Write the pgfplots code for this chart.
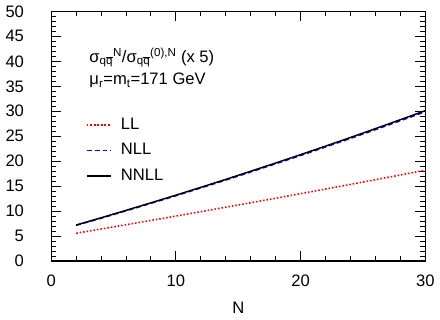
\documentclass[border=0pt]{standalone}
\usepackage{fontspec}
\setmainfont{Liberation Sans}
\usepackage{pgfplots}
\pgfplotsset{compat=1.18}
\begin{document}
\fontsize{17}{20}\selectfont
\begin{tikzpicture}
\begin{axis}[
  scale only axis,
  width=382bp, height=255bp,
  xmin=0, xmax=30, ymin=0, ymax=50,
  xtick={0,10,20,30},
  minor x tick num=4,
  ytick={0,5,...,50},
  minor y tick num=4,
  tick align=inside,
  major tick length=10bp,
  minor tick length=5bp,
  axis line style={line width=1.4pt},
  every tick/.style={line width=1pt, black},
  xlabel={N},
  xlabel style={yshift=-5bp},
  tick label style={font=\fontsize{17}{20}\selectfont},
  yticklabel style={xshift=-22bp},
  xticklabel style={yshift=-8bp},
  label style={font=\fontsize{17}{20}\selectfont},
  /pgf/number format/assume math mode=true,
  legend style={at={(rel axis cs:0.085,0.59)}, anchor=north west, draw=none, fill=none,
    font=\fontsize{17}{20}\selectfont, row sep=8bp},
  legend cell align=left,
  legend image code/.code={\draw[#1] (0bp,0bp) -- (25bp,0bp); \path (0bp,0bp) (32bp,0bp);},
]
\addplot[red, line width=1.6pt, dash pattern=on 1.6pt off 2pt] coordinates {
(2,5.58) (4,6.42) (6,7.28) (8,8.14) (10,9.01) (12,9.89) (14,10.78) (16,11.68)
(18,12.58) (20,13.50) (22,14.42) (24,15.35) (26,16.29) (28,17.24) (30,18.20)};
\addlegendentry{LL}
\addplot[blue, line width=1.5pt, dash pattern=on 5pt off 3pt] coordinates {
(2,7.15) (4,8.58) (6,10.06) (8,11.56) (10,13.08) (12,14.64) (14,16.22) (16,17.84)
(18,19.48) (20,21.14) (22,22.84) (24,24.56) (26,26.32) (28,28.10) (30,29.90)};
\addlegendentry{NLL}
\addplot[black, line width=1.5pt] coordinates {
(2,7.22) (4,8.67) (6,10.16) (8,11.67) (10,13.20) (12,14.77) (14,16.36) (16,17.99)
(18,19.64) (20,21.31) (22,23.02) (24,24.75) (26,26.52) (28,28.31) (30,30.12)};
\addlegendentry{NNLL}
\node[anchor=base west, inner sep=0pt] at (axis cs:3.05,39.8)
  {σ\textsubscript{q$\overline{\mbox{q}}$}\textsuperscript{N}/σ\textsubscript{q$\overline{\mbox{q}}$}\textsuperscript{(0),N} (x 5)};
\node[anchor=base west, inner sep=0pt] at (axis cs:3.05,35.3)
  {μ\textsubscript{r}=m\textsubscript{t}=171 GeV};
\end{axis}
\end{tikzpicture}
\end{document}
